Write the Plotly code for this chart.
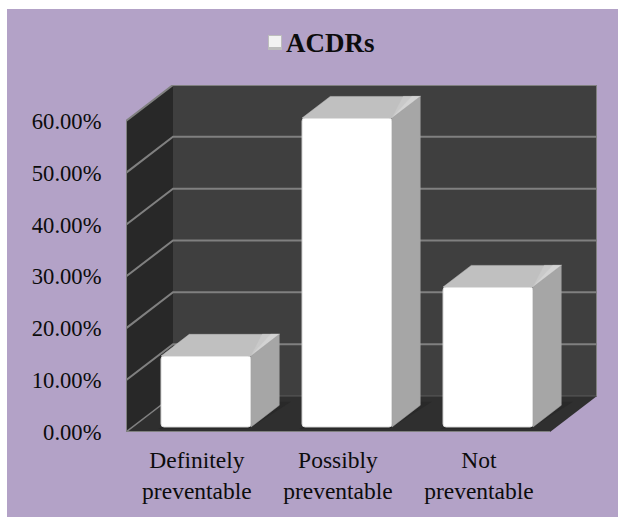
import plotly.graph_objects as go

# Chart data
categories = ["Definitely<br>preventable", "Possibly<br>preventable", "Not<br>preventable"]
values = [13.7, 59.6, 27.0]
y_ticks = [0, 10, 20, 30, 40, 50, 60]
y_labels = ["0.00%", "10.00%", "20.00%", "30.00%", "40.00%", "50.00%", "60.00%"]
series_name = "ACDRs"

# Oblique projection: depth 0 is the front plane, depth 1 the back wall
DEPTH_X = 47 / 141
DEPTH_Y = 36 / 5.18
X_LEFT, X_RIGHT = -0.521, 2.486
Y_MAX = 60
BAR_WIDTH = 90 / 141
BAR_FRONT, BAR_BACK = 0.14, 0.74

PURPLE = "#b3a2c7"
GRID = "#808080"
INK = "#0c0c0c"
SERIF = "Liberation Serif"


def proj(x, v, d):
    return x + d * DEPTH_X, v + d * DEPTH_Y


def open_path(points):
    return "M" + " L".join(f"{x:.4f},{y:.4f}" for x, y in points)


def path(points):
    return open_path(points) + " Z"


def polygons(faces):
    xs, ys = [], []
    for face in faces:
        for x, y in face + [face[0]]:
            xs.append(x)
            ys.append(y)
        xs.append(None)
        ys.append(None)
    return xs, ys


W, H = 618, 517
ml, mr, mt, mb = 126, 21, 85, 85
plot_w, plot_h = W - ml - mr, H - mt - mb


def px_x(x):
    return (x - ml) / plot_w


def px_y(y):
    return (H - mb - y) / plot_h


def page_rect(x0, y0, x1, y1, color):
    return dict(type="rect", xref="paper", yref="paper", layer="below",
                x0=px_x(x0), x1=px_x(x1), y0=px_y(y1), y1=px_y(y0),
                fillcolor=color, line_width=0)


# The page is purple apart from a white strip along the top and left
shapes = [page_rect(0, 0, W, 9, "#ffffff"), page_rect(0, 0, 7, H, "#ffffff")]


def wall(points, color):
    shapes.append(dict(type="path", layer="below", path=path(points), fillcolor=color, line_width=0))


def edge(points, color=GRID, width=2):
    shapes.append(dict(type="path", layer="below", path=open_path(points), line=dict(color=color, width=width)))


# Left wall, back wall and floor
wall([proj(X_LEFT, 0, 0), proj(X_LEFT, Y_MAX, 0), proj(X_LEFT, Y_MAX, 1), proj(X_LEFT, 0, 1)], "#282828")
wall([proj(X_LEFT, 0, 1), proj(X_LEFT, Y_MAX, 1), proj(X_RIGHT, Y_MAX, 1), proj(X_RIGHT, 0, 1)], "#3f3f3f")
wall([proj(X_LEFT, 0, 0), proj(X_LEFT, 0, 1), proj(X_RIGHT, 0, 1), proj(X_RIGHT, 0, 0)], "#2f2f2f")

# Gridlines run along the left wall and across the back wall
edge([proj(X_LEFT, 0, 0), proj(X_LEFT, 0, 1)], width=1.5)
edge([proj(X_LEFT, 0, 1), proj(X_RIGHT, 0, 1)], color="#5c5c5c", width=1)
for t in y_ticks[1:-1]:
    edge([proj(X_LEFT, t, 0), proj(X_LEFT, t, 1), proj(X_RIGHT, t, 1)])

# Outline of the chart box
edge([proj(X_LEFT, 0, 0), proj(X_LEFT, Y_MAX, 0), proj(X_LEFT, Y_MAX, 1),
      proj(X_RIGHT, Y_MAX, 1), proj(X_RIGHT, 0, 1)])
edge([proj(X_LEFT, 0, 0), proj(X_RIGHT, 0, 0)])

# Dark contact shadow around each bar foot
half = BAR_WIDTH / 2
for i in range(len(values)):
    wall([proj(i - half, 0, BAR_FRONT - 0.06), proj(i + half, 0, BAR_FRONT - 0.06),
          proj(i + half + 0.05, 0, BAR_BACK + 0.1), proj(i - half + 0.12, 0, BAR_BACK + 0.1)], "#292929")

# Legend key with a soft lower edge
shapes.append(page_rect(268, 35, 282, 50, "#bdbdbd"))
shapes.append(page_rect(269, 36, 281, 47, "#f2f2f2"))

# Top, highlight and side faces of each bar
tops, glint_wide, glint_narrow, sides = [], [], [], []
for i, v in enumerate(values):
    lo, hi = i - half, i + half
    tops.append([proj(lo, v, BAR_FRONT), proj(hi, v, BAR_FRONT), proj(hi, v, BAR_BACK), proj(lo, v, BAR_BACK)])
    glint_wide.append([proj(hi, v, BAR_FRONT), proj(hi, v, BAR_BACK), proj(hi - 0.12, v, BAR_BACK)])
    glint_narrow.append([proj(hi, v, BAR_FRONT), proj(hi, v, BAR_BACK), proj(hi - 0.06, v, BAR_BACK)])
    sides.append([proj(hi, 0, BAR_FRONT), proj(hi, v, BAR_FRONT), proj(hi, v, BAR_BACK), proj(hi, 0, BAR_BACK)])

fig = go.Figure()
# Front faces sit one step into the floor, so they start above the zero line
front_base = BAR_FRONT * DEPTH_Y
bar_x = [i + BAR_FRONT * DEPTH_X for i in range(len(values))]
fig.add_bar(x=bar_x, y=values, base=front_base, width=BAR_WIDTH, showlegend=False, name=series_name,
            hoverinfo="skip", marker=dict(color="#ffffff", line=dict(color="#dcdcdc", width=1), cornerradius=3))

for faces, color in [(tops, "#c0c0c0"), (glint_wide, "#c9c9c9"), (glint_narrow, "#d3d3d3"), (sides, "#a6a6a6")]:
    xs, ys = polygons(faces)
    fig.add_scatter(x=xs, y=ys, mode="lines", fill="toself", fillcolor=color,
                    line=dict(color=color, width=0.5), showlegend=False, hoverinfo="skip")

fig.update_layout(
    width=W, height=H, autosize=False,
    margin=dict(l=ml, r=mr, t=mt, b=mb, pad=0),
    paper_bgcolor=PURPLE, plot_bgcolor="rgba(0,0,0,0)",
    shapes=shapes,
    showlegend=False,
    annotations=[dict(text=f"<b>{series_name}</b>", xref="paper", yref="paper", x=px_x(284), y=px_y(43),
                      xanchor="left", yanchor="middle", showarrow=False,
                      font=dict(family=SERIF, size=27, color=INK))],
    font=dict(family=SERIF, color=INK),
    xaxis=dict(range=[X_LEFT, X_RIGHT + DEPTH_X], tickmode="array",
               tickvals=[i - 0.018 for i in range(len(categories))], ticktext=categories,
               tickfont=dict(size=23.5), ticks="outside", ticklen=7, tickcolor="rgba(0,0,0,0)",
               showgrid=False, zeroline=False, showline=False, tickangle=0),
    yaxis=dict(range=[0, Y_MAX + DEPTH_Y], tickmode="array", tickvals=y_ticks, ticktext=y_labels,
               tickfont=dict(size=22.6), ticks="outside", ticklen=19, tickcolor="rgba(0,0,0,0)",
               showgrid=False, zeroline=False, showline=False),
)

fig.write_html("out.html")
